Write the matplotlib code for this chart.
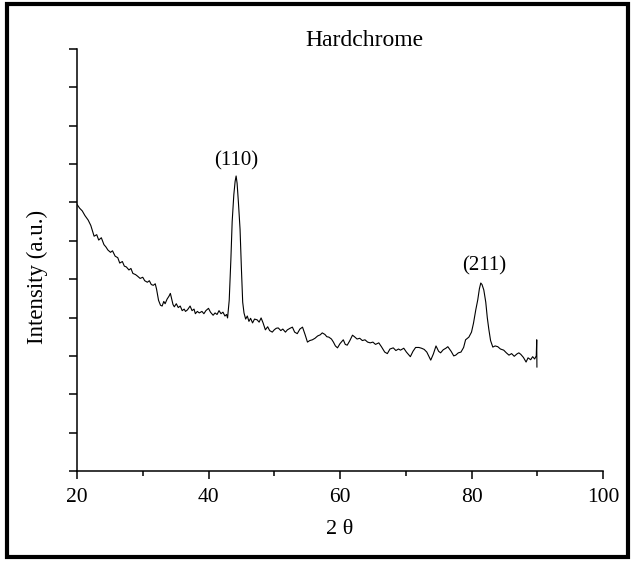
import matplotlib
matplotlib.use('Agg')
import matplotlib.pyplot as plt
from matplotlib.patches import Rectangle

# 2-theta positions (degrees) and intensity (a.u.)
two_theta = [
    20.0, 20.4, 20.8, 21.2, 21.7, 22.1, 22.6, 23.0, 23.3, 23.7, 24.1, 24.4, 24.7,
    25.1, 25.4, 25.8, 26.2, 26.5, 26.9, 27.2, 27.5, 27.9, 28.2, 28.5, 28.9, 29.2,
    29.6, 30.0, 30.3, 30.7, 31.0, 31.3, 31.6, 31.9, 32.1, 32.4, 32.7, 32.95, 33.2,
    33.4, 33.7, 34.0, 34.2, 34.4, 34.6, 34.8, 35.1, 35.4, 35.7, 36.0, 36.3, 36.5,
    36.8, 37.2, 37.5, 37.8, 38.0, 38.3, 38.6, 39.0, 39.3, 39.6, 40.0, 40.3, 40.7,
    41.0, 41.3, 41.6, 41.9, 42.2, 42.5, 42.75, 42.9,
    43.15, 43.4, 43.6, 43.85, 44.05, 44.2, 44.35, 44.55, 44.8, 45.0, 45.2, 45.4,
    45.65, 45.9, 46.15, 46.4, 46.7, 47.0, 47.4, 47.7, 48.0, 48.3, 48.65, 49.0,
    49.3, 49.7, 50.0, 50.3, 50.6, 51.0, 51.3, 51.7, 52.0, 52.4, 52.76, 53.1, 53.5,
    53.9, 54.3, 54.7, 55.05, 55.4, 55.8, 56.2, 56.6, 57.0, 57.3, 57.7, 58.0, 58.3,
    58.7, 59.0, 59.3, 59.62, 60.0, 60.5, 60.8, 61.1, 61.5, 61.9, 62.2, 62.6, 63.0,
    63.4, 63.8, 64.2, 64.6, 65.0, 65.4, 65.9, 66.3, 66.8, 67.2, 67.6, 68.1, 68.5,
    68.9, 69.2, 69.7, 70.1, 70.7, 71.1, 71.5, 72.0, 72.4, 72.8, 73.2, 73.8, 74.2,
    74.6, 75.0, 75.3, 75.7, 76.1, 76.4, 76.9, 77.3, 77.6, 78.0, 78.4, 78.8, 79.1,
    79.6, 80.0, 80.3, 80.65, 80.95, 81.2, 81.41, 81.6, 81.87, 82.17, 82.4, 82.63,
    82.9, 83.24, 83.6, 84.0, 84.4, 84.9, 85.3, 85.7, 86.1, 86.5, 86.9, 87.2, 87.5,
    87.9, 88.3, 88.6, 89.0, 89.3, 89.6, 89.85, 89.92, 89.95,
]
intensity = [
    6.95, 6.85, 6.78, 6.66, 6.54, 6.40, 6.12, 6.16, 6.02, 6.08, 5.90, 5.84, 5.76,
    5.70, 5.74, 5.60, 5.56, 5.42, 5.46, 5.34, 5.32, 5.24, 5.28, 5.15, 5.12, 5.08,
    5.02, 5.05, 4.96, 4.92, 4.96, 4.86, 4.84, 4.88, 4.74, 4.45, 4.32, 4.30, 4.42,
    4.36, 4.48, 4.56, 4.63, 4.48, 4.34, 4.28, 4.36, 4.26, 4.30, 4.18, 4.22, 4.16,
    4.20, 4.30, 4.18, 4.22, 4.10, 4.16, 4.12, 4.16, 4.10, 4.18, 4.24, 4.14, 4.06,
    4.12, 4.08, 4.18, 4.10, 4.14, 4.04, 4.08, 3.99,
    4.45, 5.50, 6.50, 7.20, 7.55, 7.69, 7.50, 7.00, 6.30, 5.30, 4.40, 4.12,
    3.96, 4.04, 3.90, 3.98, 3.86, 3.96, 3.94, 3.88, 3.99, 3.86, 3.68, 3.76,
    3.66, 3.62, 3.68, 3.72, 3.73, 3.66, 3.70, 3.62, 3.68, 3.72, 3.75, 3.62, 3.58,
    3.70, 3.75, 3.55, 3.36, 3.40, 3.42, 3.46, 3.52, 3.55, 3.60, 3.56, 3.50, 3.49,
    3.44, 3.36, 3.26, 3.21, 3.32, 3.42, 3.30, 3.28, 3.40, 3.54, 3.50, 3.44, 3.46,
    3.40, 3.42, 3.36, 3.34, 3.36, 3.30, 3.34, 3.24, 3.10, 3.06, 3.18, 3.21, 3.14,
    3.18, 3.15, 3.20, 3.10, 2.98, 3.12, 3.22, 3.22, 3.20, 3.17, 3.10, 2.89, 3.05,
    3.26, 3.12, 3.08, 3.16, 3.20, 3.24, 3.12, 3.00, 3.02, 3.08, 3.10, 3.22, 3.42,
    3.49, 3.62, 3.85, 4.20, 4.46, 4.75, 4.90, 4.86, 4.72, 4.40, 4.00, 3.70,
    3.40, 3.23, 3.26, 3.24, 3.18, 3.15, 3.08, 3.02, 3.06, 2.99, 3.05, 3.08, 3.04,
    2.96, 2.84, 2.95, 2.90, 2.98, 2.92, 3.00, 3.42, 2.71,
]

peak_labels = ['(110)', '(211)']
peak_x = [44.2, 81.9]
peak_y = [8.08, 5.34]

x_ticks = [20, 40, 60, 80, 100]


def xrdChart():

    """Draws the XRD pattern of the hardchrome coating"""

    plt.rcParams['font.family'] = ['Liberation Serif', 'DejaVu Serif']

    fig = plt.figure(figsize=(6.31, 5.61), dpi=100)
    ax = fig.add_axes([77 / 631, 90 / 561, 526 / 631, 422 / 561])

    ax.plot(two_theta, intensity, color='black', linewidth=0.8)

    for label, x, y in zip(peak_labels, peak_x, peak_y):
        ax.text(x, y, label, ha='center', va='center', fontsize=15)

    ax.set_xlim(20, 100)
    ax.set_ylim(0, 11)
    ax.set_xticks(x_ticks)
    ax.set_xticks(range(30, 100, 20), minor=True)
    ax.set_yticks(range(0, 12))
    ax.set_yticklabels([])
    ax.tick_params(axis='x', which='major', length=6, width=1.1,
                   labelsize=15.5, pad=6)
    ax.tick_params(axis='x', which='minor', length=3.6, width=1.1)
    ax.tick_params(axis='y', length=5.8, width=1.1)

    for side in ['top', 'right']:
        ax.spines[side].set_visible(False)
    for side in ['left', 'bottom']:
        ax.spines[side].set_linewidth(1.1)

    fig.text(364 / 631, 1 - 40 / 561, 'Hardchrome', ha='center', va='center',
             fontsize=17)
    fig.text(340 / 631, 1 - 530 / 561, '2 θ', ha='center', va='center',
             fontsize=16)
    fig.text(37 / 631, 1 - 277 / 561, 'Intensity (a.u.)', ha='center',
             va='center', rotation=90, fontsize=16.5)

    # black frame around the whole picture
    fig.patches.append(Rectangle((7 / 631, 4 / 561), 621 / 631, 553 / 561,
                                 transform=fig.transFigure, fill=False,
                                 edgecolor='black', linewidth=3))

    fig.savefig('out.png', dpi=100)


if __name__ == "__main__":

    xrdChart()
